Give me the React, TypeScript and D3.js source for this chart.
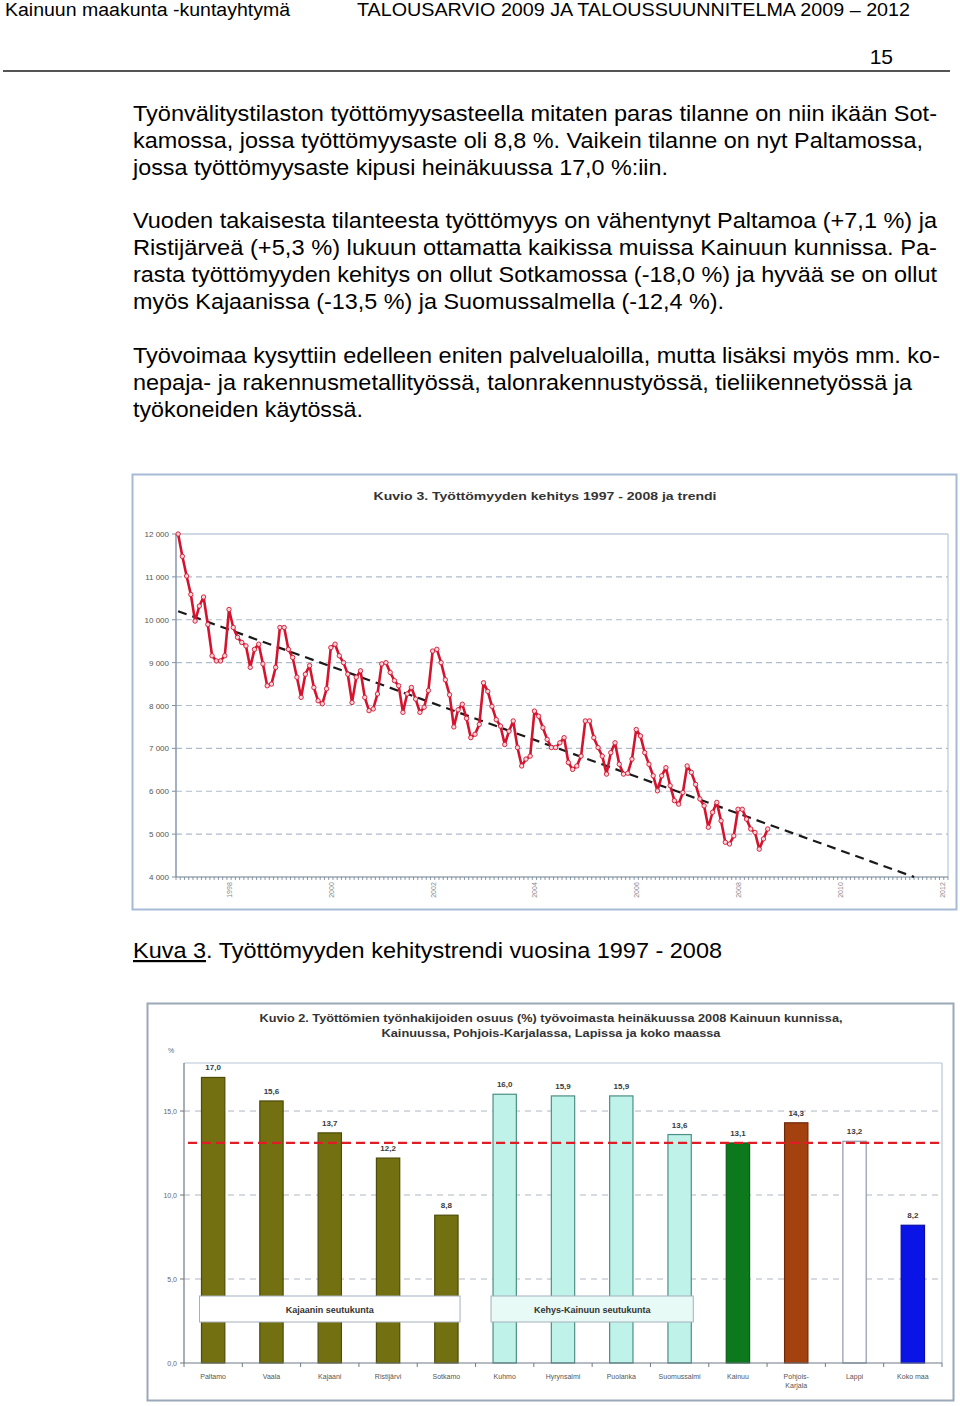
import React from "react";
import * as d3 from "d3";

// ---------- Text content ----------
const headerLeft = "Kainuun maakunta -kuntayhtymä";
const headerRight = "TALOUSARVIO 2009 JA TALOUSSUUNNITELMA 2009 – 2012";
const pageNumber = "15";

const paragraph1 = [
  "Työnvälitystilaston työttömyysasteella mitaten paras tilanne on niin ikään Sot-",
  "kamossa, jossa työttömyysaste oli 8,8 %. Vaikein tilanne on nyt Paltamossa,",
  "jossa työttömyysaste kipusi heinäkuussa 17,0 %:iin.",
];
const paragraph2 = [
  "Vuoden takaisesta tilanteesta työttömyys on vähentynyt Paltamoa (+7,1 %) ja",
  "Ristijärveä (+5,3 %) lukuun ottamatta kaikissa muissa Kainuun kunnissa. Pa-",
  "rasta työttömyyden kehitys on ollut Sotkamossa (-18,0 %) ja hyvää se on ollut",
  "myös Kajaanissa (-13,5 %) ja Suomussalmella (-12,4 %).",
];
const paragraph3 = [
  "Työvoimaa kysyttiin edelleen eniten palvelualoilla, mutta lisäksi myös mm. ko-",
  "nepaja- ja rakennusmetallityössä, talonrakennustyössä, tieliikennetyössä ja",
  "työkoneiden käytössä.",
];
const captionLabel = "Kuva 3";
const captionText = ". Työttömyyden kehitystrendi vuosina 1997 - 2008";

// ---------- Chart 1 data: monthly unemployed, Jan 1997 – Aug 2008 ----------
const chart1Title = "Kuvio 3. Työttömyyden kehitys 1997 - 2008 ja trendi";
const y1997 = [12000, 11480, 11020, 10590, 9970, 10320, 10530, 9890, 9160, 9040, 9040, 9160];
const y1998 = [10240, 9820, 9590, 9470, 9390, 8890, 9310, 9430, 8970, 8460, 8500, 8890];
const y1999 = [9820, 9820, 9310, 9120, 8660, 8190, 8730, 8930, 8420, 8110, 8040, 8390];
const y2000 = [9350, 9430, 9160, 9000, 8730, 8070, 8660, 8810, 8190, 7880, 7920, 8270];
const y2001 = [8970, 9000, 8770, 8580, 8460, 7840, 8270, 8420, 8150, 7840, 7960, 8350];
const y2002 = [9270, 9310, 9000, 8600, 8250, 7500, 7900, 8030, 7700, 7250, 7330, 7560];
const y2003 = [8530, 8330, 7980, 7670, 7520, 7090, 7400, 7640, 7020, 6590, 6750, 6820];
const y2004 = [7870, 7750, 7480, 7210, 7020, 7020, 7130, 7250, 6670, 6510, 6590, 6820];
const y2005 = [7640, 7640, 7250, 7020, 6820, 6400, 6900, 7130, 6630, 6400, 6420, 6750];
const y2006 = [7440, 7290, 6900, 6630, 6360, 6010, 6360, 6550, 6130, 5780, 5700, 5970];
const y2007 = [6590, 6440, 6160, 5820, 5660, 5160, 5510, 5740, 5310, 4810, 4770, 4960];
const y2008 = [5580, 5580, 5350, 5120, 5040, 4650, 4890, 5120];
const yearSeries = [y1997, y1998, y1999, y2000, y2001, y2002, y2003, y2004, y2005, y2006, y2007, y2008];
const firstYear = 1997;
// trend line end points: [month index from Jan 1997, value]
const trendStart = [0, 10200];
const trendEnd = [173.5, 4000];
const yTicks1 = [4000, 5000, 6000, 7000, 8000, 9000, 10000, 11000, 12000];
const yearLabels = ["1998", "2000", "2002", "2004", "2006", "2008", "2010", "2012"];

// ---------- Chart 2 data ----------
const chart2TitleLines = [
  "Kuvio 2. Työttömien työnhakijoiden osuus (%) työvoimasta heinäkuussa 2008 Kainuun kunnissa,",
  "Kainuussa, Pohjois-Karjalassa, Lapissa ja koko maassa",
];
const municipalities = [
  "Paltamo", "Vaala", "Kajaani", "Ristijärvi", "Sotkamo",
  "Kuhmo", "Hyrynsalmi", "Puolanka", "Suomussalmi",
  "Kainuu", "Pohjois-\nKarjala", "Lappi", "Koko maa",
];
const shares = [17.0, 15.6, 13.7, 12.2, 8.8, 16.0, 15.9, 15.9, 13.6, 13.1, 14.3, 13.2, 8.2];
const groupKajaani = ["Paltamo", "Sotkamo", "Kajaanin seutukunta"];
const groupKehys = ["Kuhmo", "Suomussalmi", "Kehys-Kainuun seutukunta"];
const referenceShare = 13.1;
const yTicks2 = [0, 5, 10, 15];

// ---------- Styles ----------
const BAR_STYLE: Record<string, { fill: string; stroke: string }> = {
  Paltamo: { fill: "#727010", stroke: "#4e4c08" },
  Vaala: { fill: "#727010", stroke: "#4e4c08" },
  Kajaani: { fill: "#727010", stroke: "#4e4c08" },
  "Ristijärvi": { fill: "#727010", stroke: "#4e4c08" },
  Sotkamo: { fill: "#727010", stroke: "#4e4c08" },
  Kuhmo: { fill: "#bff3ea", stroke: "#4d8f84" },
  Hyrynsalmi: { fill: "#bff3ea", stroke: "#4d8f84" },
  Puolanka: { fill: "#bff3ea", stroke: "#4d8f84" },
  Suomussalmi: { fill: "#bff3ea", stroke: "#4d8f84" },
  Kainuu: { fill: "#0c7a1c", stroke: "#0a5e16" },
  "Pohjois-\nKarjala": { fill: "#a3410f", stroke: "#6e2a08" },
  Lappi: { fill: "#ffffff", stroke: "#8e9aaa" },
  "Koko maa": { fill: "#0a14e6", stroke: "#0a0ea0" },
};

const SANS = "'Liberation Sans', Arial, sans-serif";
const locale = d3.formatLocale({ decimal: ",", thousands: " ", grouping: [3], currency: ["", ""] });
const fmtThousands = locale.format(",");
const fmtPct = locale.format(".1f");

function Chart1() {
  const left = 176, right = 948, top = 534, bottom = 877;
  const x = d3.scaleLinear().domain([-0.5, 181.5]).range([left, right]);
  const y = d3.scaleLinear().domain([4000, 12000]).range([bottom, top]);
  const points = yearSeries.flatMap((arr, yi) => arr.map((v, i) => ({ m: yi * 12 + i, v })));
  const line = d3.line<{ m: number; v: number }>().x((d) => x(d.m)).y((d) => y(d.v));
  const trend = d3.line<number[]>().x((d) => x(d[0])).y((d) => y(d[1]));
  const monthTicks = d3.range(0, 183).map((k) => k - 0.5);
  return (
    <g>
      <rect x={132.5} y={474.5} width={824} height={435} fill="#ffffff" stroke="#a7bad6" strokeWidth={2} />
      <text x={545} y={500} textAnchor="middle" fontFamily={SANS} fontSize={11} fontWeight="bold" fill="#333" textLength={343} lengthAdjust="spacingAndGlyphs">
        {chart1Title}
      </text>
      {yTicks1.map((t) => (
        <g key={t}>
          {t !== 4000 && (
            <line x1={left} x2={right} y1={y(t)} y2={y(t)} stroke={t === 12000 ? "#9fb2c8" : "#aebccb"} strokeWidth={1.2} strokeDasharray={t === 12000 ? undefined : "6 4"} />
          )}
          <line x1={left - 4} x2={left} y1={y(t)} y2={y(t)} stroke="#7f8fa3" />
          <text x={left - 7} y={y(t) + 3} textAnchor="end" fontFamily={SANS} fontSize={8} fill="#555">
            {fmtThousands(t)}
          </text>
        </g>
      ))}
      <line x1={right} x2={right} y1={top} y2={bottom} stroke="#b8c8dc" strokeWidth={1.2} />
      <line x1={left} x2={left} y1={top} y2={bottom} stroke="#8797ab" strokeWidth={1.5} />
      <line x1={left} x2={right} y1={bottom} y2={bottom} stroke="#6f7f90" strokeWidth={1.2} />
      {monthTicks.map((m) => (
        <line key={m} x1={x(m)} x2={x(m)} y1={bottom} y2={bottom + 3} stroke="#6f7f90" strokeWidth={0.8} />
      ))}
      {yearLabels.map((lab) => {
        const m = (+lab - firstYear) * 12;
        return (
          <text key={lab} transform={`translate(${x(m) + 3},${bottom + 13}) rotate(-90)`} textAnchor="middle" fontFamily={SANS} fontSize={7} fill="#8a8a8a">
            {lab}
          </text>
        );
      })}
      <path d={trend([trendStart, trendEnd]) || ""} fill="none" stroke="#1a1a1a" strokeWidth={2.2} strokeDasharray="9 6" />
      <path d={line(points) || ""} fill="none" stroke="#d4142e" strokeWidth={2.6} strokeLinejoin="round" />
      {points.map((p) => (
        <circle key={p.m} cx={x(p.m)} cy={y(p.v)} r={2.2} fill="#f7d4dc" stroke="#d4142e" strokeWidth={0.9} />
      ))}
    </g>
  );
}

function Chart2() {
  const left = 184, right = 942, top = 1063, bottom = 1363;
  const x = d3.scaleBand<string>().domain(municipalities).range([left, right]).paddingInner(0.6).paddingOuter(0.3);
  const y = d3.scaleLinear().domain([0, 17.86]).range([bottom, top]);
  const bw = x.bandwidth();
  const step = x.step();
  const boxes = [groupKajaani, groupKehys];
  return (
    <g>
      <rect x={147.5} y={1003.5} width={806} height={397} fill="#ffffff" stroke="#9ba8b8" strokeWidth={2} />
      {chart2TitleLines.map((t, i) => (
        <text key={i} x={551} y={1022 + i * 15} textAnchor="middle" fontFamily={SANS} fontSize={10.5} fontWeight="bold" fill="#333" textLength={i === 0 ? 583 : 339} lengthAdjust="spacingAndGlyphs">
          {t}
        </text>
      ))}
      <text x={168} y={1053} fontFamily={SANS} fontSize={7} fill="#666">%</text>
      <line x1={left} x2={right} y1={top} y2={top} stroke="#b8c6d8" strokeWidth={1.2} />
      <line x1={right} x2={right} y1={top} y2={bottom} stroke="#b8c6d8" strokeWidth={1.2} />
      {yTicks2.map((t) => (
        <g key={t}>
          {t > 0 && <line x1={left} x2={right} y1={y(t)} y2={y(t)} stroke="#b0b8c4" strokeWidth={1} strokeDasharray="6 5" />}
          <line x1={left - 4} x2={left} y1={y(t)} y2={y(t)} stroke="#777" />
          <text x={left - 7} y={y(t) + 3} textAnchor="end" fontFamily={SANS} fontSize={7} fill="#666">
            {fmtPct(t)}
          </text>
        </g>
      ))}
      {municipalities.map((c, i) => {
        const st = BAR_STYLE[c];
        const bx = x(c) as number;
        return (
          <g key={c}>
            <rect x={bx} y={y(shares[i])} width={bw} height={bottom - y(shares[i])} fill={st.fill} stroke={st.stroke} strokeWidth={1.2} />
            <text x={bx + bw / 2} y={y(shares[i]) - 7} textAnchor="middle" fontFamily={SANS} fontSize={8} fontWeight="bold" fill="#3a3a3a">
              {fmtPct(shares[i])}
            </text>
          </g>
        );
      })}
      {boxes.map((g, i) => {
        const x0 = (x(g[0]) as number) - 2;
        const x1 = (x(g[1]) as number) + bw + 2;
        return (
          <g key={g[2]}>
            <rect x={x0} y={1296} width={x1 - x0} height={26} fill={i === 0 ? "#ffffff" : "#e8faf6"} stroke="#a4b0bc" strokeWidth={1} />
            <text x={(x0 + x1) / 2} y={1313} textAnchor="middle" fontFamily={SANS} fontSize={9} fontWeight="bold" fill="#333">
              {g[2]}
            </text>
          </g>
        );
      })}
      <line x1={left + 4} x2={right} y1={y(referenceShare)} y2={y(referenceShare)} stroke="#e01c24" strokeWidth={2.2} strokeDasharray="9 5" />
      <line x1={left} x2={left} y1={top} y2={bottom} stroke="#6f7a86" strokeWidth={1.2} />
      <line x1={left} x2={right} y1={bottom} y2={bottom} stroke="#6f7a86" strokeWidth={1.2} />
      {d3.range(0, municipalities.length + 1).map((k) => (
        <line key={k} x1={left + k * step} x2={left + k * step} y1={bottom} y2={bottom + 4} stroke="#6f7a86" />
      ))}
      {municipalities.map((c) => {
        const cx = (x(c) as number) + bw / 2;
        return (
          <text key={c} x={cx} y={1379} textAnchor="middle" fontFamily={SANS} fontSize={7} fill="#555">
            {c.split("\n").map((part, j) => (
              <tspan key={j} x={cx} dy={j === 0 ? 0 : 9}>
                {part}
              </tspan>
            ))}
          </text>
        );
      })}
    </g>
  );
}

function Paragraph({ lines, y0, widths }: { lines: string[]; y0: number; widths: number[] }) {
  return (
    <g>
      {lines.map((l, i) => (
        <text key={i} x={133} y={y0 + i * 27} fontFamily={SANS} fontSize={22} fill="#000" textLength={widths[i]} lengthAdjust="spacingAndGlyphs">
          {l}
        </text>
      ))}
    </g>
  );
}

export default function App() {
  return (
    <svg width={960} height={1406} style={{ position: "absolute", left: 0, top: 0, background: "#fff" }}>
      <rect x={0} y={0} width={960} height={1406} fill="#fff" />
      <text x={5} y={16} fontFamily="'Liberation Sans Narrow', 'Liberation Sans', Arial, sans-serif" fontSize={18} fill="#000" textLength={285} lengthAdjust="spacingAndGlyphs">
        {headerLeft}
      </text>
      <text x={357} y={16} fontFamily="'Liberation Sans Narrow', 'Liberation Sans', Arial, sans-serif" fontSize={18} fill="#000" textLength={553} lengthAdjust="spacingAndGlyphs">
        {headerRight}
      </text>
      <text x={893} y={64} textAnchor="end" fontFamily="'Liberation Sans Narrow', 'Liberation Sans', Arial, sans-serif" fontSize={21} fill="#000">
        {pageNumber}
      </text>
      <line x1={3} x2={950} y1={71} y2={71} stroke="#555" strokeWidth={2} />

      <Paragraph lines={paragraph1} y0={121} widths={[804, 790, 535]} />
      <Paragraph lines={paragraph2} y0={228} widths={[804, 804, 804, 591]} />
      <Paragraph lines={paragraph3} y0={363} widths={[807, 779, 230]} />

      <Chart1 />

      <text x={133} y={958} fontFamily={SANS} fontSize={22} fill="#000" textLength={589} lengthAdjust="spacingAndGlyphs">
        <tspan textDecoration="underline">{captionLabel}</tspan>
        <tspan>{captionText}</tspan>
      </text>

      <Chart2 />
    </svg>
  );
}
